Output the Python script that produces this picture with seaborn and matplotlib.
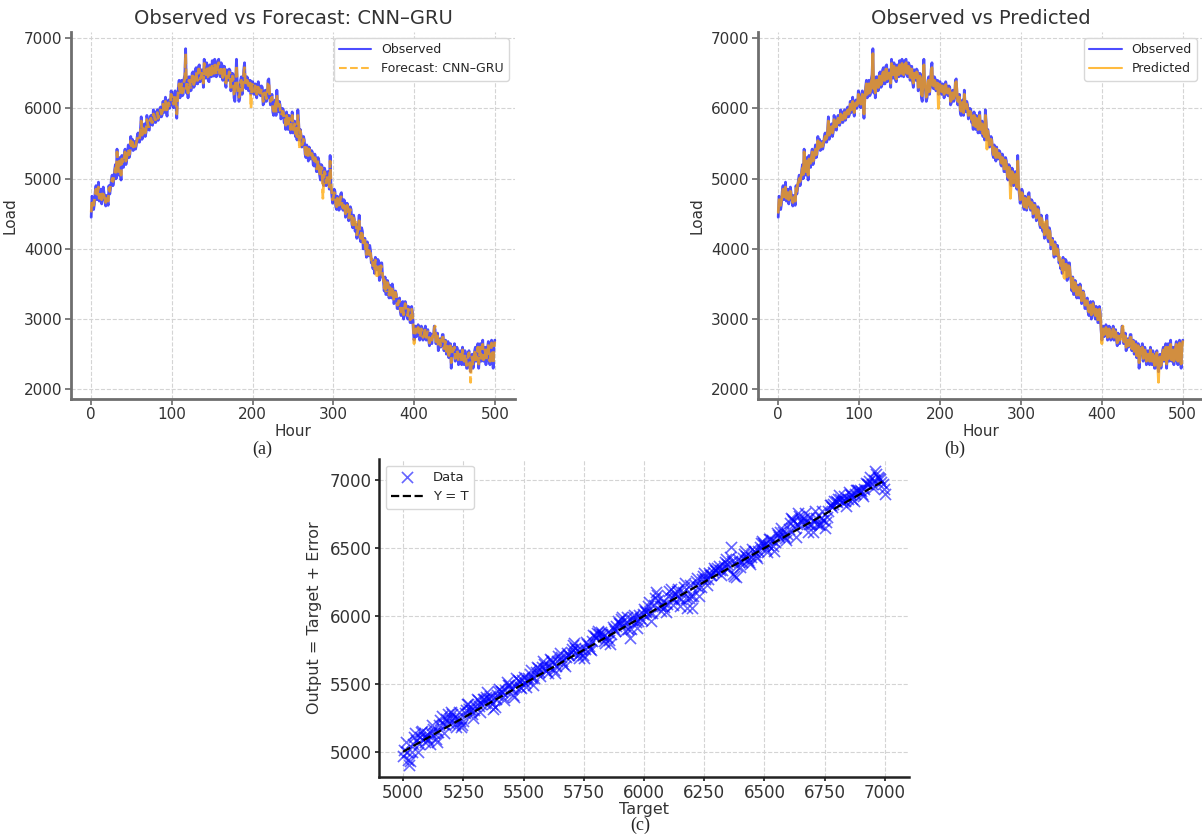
import matplotlib
matplotlib.use("Agg")
import matplotlib.pyplot as plt
import seaborn as sns
import numpy as np

# hourly load, hours 0..500
observed = [
    4450, 4750, 4720, 4560, 4640, 4820, 4900, 4700, 4760, 4950,
    4680, 4800, 4850, 4640, 4720, 4880, 4790, 4700, 4610, 4760,
    4700, 4620, 4900, 4780, 4860, 4990, 5050, 4900, 4980, 5120,
    5200, 5000, 5420, 5180, 5050, 5300, 5150, 4980, 5330, 5200,
    5160, 5350, 5420, 5200, 5260, 5380, 5480, 5300, 5350, 5600,
    5470, 5560, 5400, 5480, 5530, 5420, 5480, 5600, 5650, 5520,
    5520, 5700, 5880, 5560, 5620, 5760, 5780, 5600, 5660, 5900,
    5830, 5700, 5690, 5850, 5900, 5780, 5760, 5980, 5950, 5800,
    5800, 5950, 5980, 5830, 5870, 6000, 6020, 5880, 5910, 6100,
    5940, 6050, 6160, 5960, 5890, 6100, 6120, 6000, 6030, 6250,
    6180, 6080, 6010, 6200, 6250, 6050, 5860, 6150, 6300, 6400,
    6150, 6300, 6400, 6180, 6200, 6420, 6480, 6850, 6220, 6380,
    6150, 6450, 6450, 6250, 6260, 6500, 6520, 6300, 6320, 6550,
    6580, 6350, 6350, 6600, 6620, 6380, 6400, 6550, 6520, 6300,
    6700, 6500, 6430, 6650, 6600, 6400, 6380, 6620, 6560, 6450,
    6680, 6500, 6460, 6700, 6620, 6450, 6520, 6680, 6700, 6480,
    6450, 6650, 6620, 6400, 6500, 6600, 6380, 6300, 6550, 6420,
    6400, 6560, 6540, 6250, 6300, 6500, 6480, 6150, 6100, 6400,
    6700, 6350, 6250, 6100, 6150, 6400, 6450, 6200, 6320, 6550,
    6650, 6300, 6280, 6450, 6420, 6250, 6350, 6400, 6200, 6380,
    6380, 6250, 6200, 6350, 6340, 6150, 6250, 6380, 6310, 6200,
    6180, 6320, 6300, 6050, 6080, 6250, 6260, 6100, 6150, 6400,
    6420, 6200, 6050, 6150, 6200, 5950, 5900, 6100, 6120, 5900,
    6260, 6050, 5950, 6100, 6050, 5850, 5880, 6000, 5980, 5800,
    5820, 5700, 5950, 5850, 5700, 5900, 5880, 5650, 5760, 5950,
    5650, 5750, 5820, 5600, 5700, 5550, 5980, 5800, 5550, 5700,
    5620, 5450, 5480, 5600, 5550, 5350, 5300, 5480, 5420, 5250,
    5450, 5300, 5280, 5400, 5380, 5200, 5180, 5350, 5300, 5100,
    5100, 5300, 5250, 5050, 4980, 5200, 5180, 4950, 4900, 5150,
    5100, 4900, 4920, 5100, 5050, 4850, 5330, 4900, 4780, 4650,
    4700, 4850, 4820, 4600, 4560, 4750, 4700, 4550, 4640, 4780,
    4800, 4600, 4550, 4700, 4680, 4450, 4500, 4650, 4600, 4400,
    4450, 4600, 4560, 4350, 4300, 4480, 4420, 4250, 4350, 4150,
    4200, 4350, 4480, 4150, 4100, 4300, 4250, 4000, 4050, 4150,
    4000, 3880, 4100, 3950, 3900, 4050, 3980, 3800, 3850, 3720,
    3780, 3650, 3880, 3760, 3700, 3850, 3830, 3550, 3620, 3800,
    3800, 3600, 3550, 3400, 3600, 3350, 3350, 3550, 3500, 3300,
    3480, 3350, 3300, 3500, 3420, 3220, 3250, 3400, 3350, 3150,
    3150, 3280, 3300, 3100, 3050, 3200, 3250, 3000, 3100, 3250,
    3200, 3050, 3000, 3180, 3150, 2950, 2950, 3180, 3100, 2850,
    2700, 2800, 2900, 2750, 2780, 2920, 2880, 2700, 2750, 2900,
    2850, 2700, 2720, 2850, 2900, 2700, 2780, 2850, 2700, 2620,
    2800, 2700, 2650, 2780, 2750, 2900, 2850, 2650, 2680, 2800,
    2550, 2680, 2720, 2600, 2650, 2780, 2780, 2550, 2600, 2700,
    2500, 2620, 2680, 2450, 2550, 2650, 2300, 2450, 2600, 2550,
    2650, 2400, 2450, 2600, 2550, 2350, 2380, 2550, 2500, 2350,
    2600, 2450, 2350, 2550, 2480, 2300, 2300, 2500, 2550, 2350,
    2250, 2450, 2500, 2300, 2380, 2550, 2600, 2400, 2420, 2650,
    2300, 2500, 2650, 2400, 2500, 2700, 2400, 2550, 2600, 2350,
    2450, 2600, 2680, 2400, 2350, 2550, 2700, 2450, 2300, 2650,
    2700,
]
forecast = [
    4520, 4700, 4680, 4620, 4700, 4780, 4850, 4740, 4800, 4880,
    4720, 4760, 4800, 4700, 4760, 4820, 4740, 4720, 4660, 4700,
    4740, 4680, 4860, 4820, 4920, 4950, 5000, 4960, 5020, 5080,
    5150, 5060, 5380, 5220, 5100, 5250, 5200, 5050, 5280, 5240,
    5220, 5300, 5380, 5250, 5300, 5350, 5420, 5340, 5400, 5540,
    5430, 5520, 5450, 5460, 5500, 5460, 5520, 5560, 5600, 5560,
    5580, 5660, 5820, 5620, 5680, 5720, 5740, 5650, 5700, 5840,
    5780, 5740, 5740, 5820, 5860, 5800, 5800, 5920, 5900, 5840,
    5840, 5900, 5940, 5860, 5900, 5960, 5980, 5920, 5950, 6060,
    5980, 6020, 6100, 6000, 5940, 6060, 6080, 6040, 6060, 6200,
    6140, 6100, 6060, 6160, 6200, 6100, 5920, 6120, 6260, 6350,
    6200, 6260, 6350, 6220, 6250, 6380, 6420, 6780, 6280, 6340,
    6220, 6400, 6400, 6300, 6300, 6460, 6460, 6340, 6380, 6500,
    6520, 6400, 6400, 6560, 6560, 6420, 6440, 6500, 6500, 6360,
    6640, 6520, 6480, 6600, 6560, 6440, 6420, 6580, 6540, 6480,
    6620, 6520, 6500, 6640, 6580, 6480, 6540, 6620, 6650, 6500,
    6500, 6600, 6580, 6440, 6460, 6560, 6420, 6360, 6500, 6440,
    6440, 6520, 6500, 6300, 6340, 6460, 6420, 6200, 6180, 6380,
    6620, 6380, 6300, 6160, 6200, 6380, 6400, 6240, 6340, 6500,
    6580, 6340, 6320, 6400, 6380, 6280, 6320, 6360, 6000, 6340,
    6340, 6280, 6240, 6320, 6300, 6200, 6260, 6340, 6280, 6220,
    6220, 6280, 6260, 6100, 6120, 6220, 6220, 6140, 6180, 6360,
    6380, 6220, 6100, 6140, 6160, 6000, 5960, 6080, 6080, 5940,
    6200, 6060, 6000, 6060, 6000, 5900, 5920, 5960, 5940, 5840,
    5860, 5760, 5900, 5840, 5740, 5860, 5840, 5700, 5780, 5900,
    5700, 5740, 5780, 5640, 5720, 5600, 5900, 5780, 5420, 5680,
    5580, 5480, 5500, 5560, 5520, 5400, 5340, 5440, 5400, 5300,
    5420, 5320, 5300, 5360, 5340, 5240, 5220, 5300, 5280, 5140,
    5140, 5260, 5200, 5080, 5020, 5160, 5140, 4720, 4960, 5100,
    5060, 4940, 4960, 5060, 5000, 4880, 5250, 4940, 4820, 4700,
    4740, 4800, 4780, 4640, 4600, 4720, 4680, 4580, 4660, 4740,
    4740, 4620, 4580, 4660, 4640, 4500, 4540, 4620, 4580, 4440,
    4500, 4560, 4520, 4380, 4340, 4440, 4400, 4300, 4380, 4200,
    4240, 4320, 4400, 4180, 4150, 4260, 4220, 4060, 4080, 4120,
    3980, 3920, 4060, 3960, 3920, 4000, 3940, 3840, 3880, 3760,
    3800, 3700, 3840, 3600, 3580, 3780, 3780, 3600, 3660, 3760,
    3740, 3620, 3580, 3440, 3580, 3400, 3400, 3520, 3480, 3340,
    3450, 3380, 3340, 3460, 3380, 3260, 3300, 3380, 3320, 3200,
    3200, 3260, 3260, 3140, 3100, 3180, 3200, 3060, 3140, 3220,
    3150, 3080, 3050, 3140, 3100, 2990, 3000, 3140, 3050, 2900,
    2650, 2820, 2860, 2780, 2800, 2880, 2840, 2740, 2780, 2860,
    2820, 2740, 2760, 2820, 2860, 2740, 2800, 2820, 2740, 2660,
    2760, 2720, 2700, 2760, 2720, 2860, 2900, 2680, 2700, 2760,
    2600, 2660, 2700, 2620, 2680, 2740, 2740, 2580, 2620, 2680,
    2540, 2600, 2640, 2480, 2570, 2620, 2380, 2480, 2580, 2560,
    2600, 2440, 2480, 2560, 2520, 2400, 2420, 2500, 2480, 2400,
    2560, 2460, 2400, 2500, 2460, 2340, 2350, 2480, 2520, 2380,
    2100, 2420, 2460, 2340, 2400, 2520, 2560, 2420, 2450, 2600,
    2360, 2480, 2600, 2440, 2480, 2640, 2420, 2520, 2560, 2400,
    2480, 2580, 2640, 2420, 2400, 2540, 2660, 2460, 2360, 2600,
    2680,
]
hours = np.arange(len(observed))

target = np.arange(5000, 7001, 5)
error = [
    -30, 10, 60, -20, -80, -120, -100, -40, 20, 60, 90, 30, -60, -10, 40, 70, 70, 20, -20, 10,
    30, -20, -50, 20, 80, 40, 10, -40, -70, 0, 50, 80, 100, 40, -30, 20, 60, 90, 20, 50,
    90, 70, 40, -10, -40, 20, 60, -10, -60, -50, -20, 30, 50, 90, 80, 40, 30, -10, -40, 10,
    40, 80, 70, 20, -30, 30, 60, 50, 20, 60, 90, 40, 50, 10, -20, -60, -50, 0, 30, 50,
    60, 40, 30, -10, -40, 30, 80, 60, 50, 20, 10, -40, -60, 20, 70, 50, 40, -10, -20, 30,
    50, 0, -30, 10, 20, 50, 70, 10, -50, 0, 40, 70, 60, 20, -10, 50, 90, 60, 30, 0,
    -20, 30, 70, 60, 40, -20, -50, 0, 30, 60, 80, 40, 10, -20, -40, 20, 50, 30, 20, 40,
    60, 80, 90, 50, 30, -10, -40, -10, 20, -30, -60, 0, 50, 30, 10, -20, -30, 30, 70, 60,
    40, 70, 80, 50, 60, 40, 20, -20, -40, 0, 30, -30, -70, 0, 50, 30, 10, 40, 70, 50,
    40, 70, 80, 20, -30, 30, 60, -30, -100, -40, 20, 40, 50, -10, -60, -10, 30, 0, -20, 20,
    50, 30, 20, 60, 80, 0, -70, -10, 40, 90, 130, 100, 60, 10, -30, 0, 20, -20, -60, -10,
    50, 80, 90, 20, -40, 0, 30, 50, 60, -10, -80, -30, 20, 50, 70, -40, -120, -50, 40, -50,
    -140, -60, 20, 40, 60, -10, -80, -20, 30, 50, 70, 20, -30, 10, 50, 30, 20, 40, 60, 40,
    30, 50, 60, 20, -20, 10, 40, 60, 80, 40, 0, 80, 150, 40, -60, -80, -90, -20, 30, 0,
    -40, -10, 20, 40, 60, 20, -20, -40, -60, -10, 40, 20, 10, -20, -40, 0, 30, 50, 60, 40,
    20, -10, -40, 10, 50, 40, 30, -20, -60, 0, 60, 40, 20, 50, 80, 40, 10, -10, -30, 10,
    40, 80, 110, 100, 80, 20, -50, 40, 120, 90, 60, 40, 20, 60, 90, 20, -60, -10, 40, -20,
    -80, -10, 60, 10, -40, -50, -60, -10, 30, -40, -100, -60, -30, 10, 50, 40, 20, 40, 60, 50,
    40, 60, 80, 50, 20, 30, 50, 10, -30, 20, 60, 40, 30, 0, -20, 20, 50, 40, 40, 30,
    20, -10, -30, 20, 60, 50, 40, 60, 80, 30, -10, 50, 110, 80, 50, 40, 30, 0, -20, -60,
    -100,
]
output = target + np.array(error)

sns.set_theme(style="whitegrid")
plt.rcParams.update({
    "font.family": ["DejaVu Sans"],
    "axes.edgecolor": "#6e6e6e", "axes.linewidth": 2.0,
    "grid.color": "#d4d4d4", "grid.linestyle": "--", "grid.linewidth": 0.8,
    "xtick.bottom": True, "ytick.left": True,
    "xtick.major.size": 4, "ytick.major.size": 4,
    "xtick.color": "#6e6e6e", "ytick.color": "#6e6e6e",
    "xtick.labelcolor": "#333333", "ytick.labelcolor": "#333333",
    "axes.labelcolor": "#333333",
})

fig = plt.figure(figsize=(12.02, 8.36), dpi=100)
W, H = 1202, 836


def box(left, top, right, bottom):
    return [left / W, 1 - bottom / H, (right - left) / W, (bottom - top) / H]


def series_panel(ax, title, second_label, dashed):
    sns.lineplot(x=hours, y=observed, ax=ax, color="blue", alpha=0.7,
                 linewidth=2.0, label="Observed")
    sns.lineplot(x=hours, y=forecast, ax=ax, color="orange", alpha=0.75,
                 linewidth=2.0, linestyle="--" if dashed else "-",
                 label=second_label)
    ax.set_ylim(1862, 7088)
    ax.set_yticks([2000, 3000, 4000, 5000, 6000, 7000])
    ax.set_xticks([0, 100, 200, 300, 400, 500])
    ax.tick_params(labelsize=11, pad=2)
    ax.set_xlabel("Hour", fontsize=11, labelpad=1)
    ax.set_ylabel("Load", fontsize=11, labelpad=5)
    ax.set_title(title, fontsize=14, color="#333333", pad=6)
    sns.despine(ax=ax)
    leg = ax.legend(loc="upper right", fontsize=9, frameon=True,
                    edgecolor="#d8d8d8", facecolor="white", framealpha=1,
                    handlelength=2.6)
    for line in leg.get_lines():
        line.set_linewidth(1.5)


ax_a = fig.add_axes(box(71, 32, 515, 399))
series_panel(ax_a, "Observed vs Forecast: CNN\u2013GRU", "Forecast: CNN\u2013GRU", True)

ax_b = fig.add_axes(box(758, 32, 1203, 399))
series_panel(ax_b, "Observed vs Predicted", "Predicted", False)

ax_c = fig.add_axes(box(379, 459, 909, 777))
sns.scatterplot(x=target, y=output, ax=ax_c, marker="x", color="blue",
                alpha=0.6, s=64, linewidth=1.2, label="Data")
ends = [target.min(), target.max()]
sns.lineplot(x=ends, y=ends, ax=ax_c, color="black", linestyle="--",
             linewidth=1.6, label="Y = T")
ax_c.set_xlim(4900, 7100)
ax_c.set_ylim(4814, 7156)
ax_c.set_xticks(np.arange(5000, 7001, 250))
ax_c.set_yticks([5000, 5500, 6000, 6500, 7000])
for s in ("left", "bottom"):
    ax_c.spines[s].set_color("#222222")
    ax_c.spines[s].set_linewidth(1.8)
ax_c.tick_params(labelsize=12, color="#222222", length=3, pad=2)
ax_c.set_xlabel("Target", fontsize=11.5, labelpad=0)
ax_c.set_ylabel("Output = Target + Error", fontsize=11.5, labelpad=6)
sns.despine(ax=ax_c)
ax_c.legend(loc="upper left", fontsize=9.5, frameon=True,
            edgecolor="#d8d8d8", facecolor="white", framealpha=1,
            handlelength=2.4)

serif = ["Liberation Serif", "DejaVu Serif"]
fig.text(262 / W, 1 - 449 / H, "(a)", ha="center", va="center", fontsize=13, family=serif)
fig.text(955 / W, 1 - 449 / H, "(b)", ha="center", va="center", fontsize=13, family=serif)
fig.text(640 / W, 1 - 825 / H, "(c)", ha="center", va="center", fontsize=13, family=serif)

fig.savefig("out.png", dpi=100)
